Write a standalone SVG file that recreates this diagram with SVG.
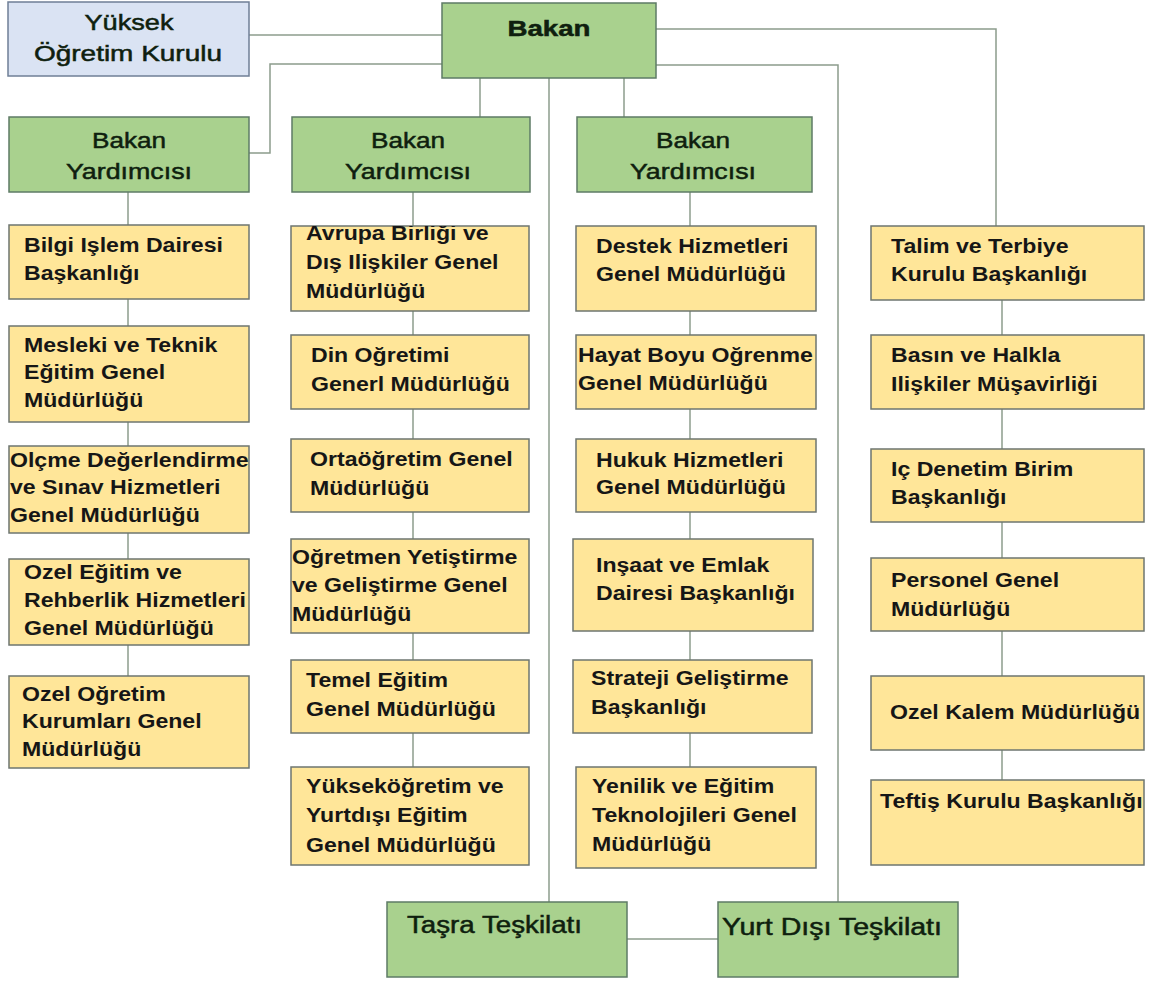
<svg xmlns="http://www.w3.org/2000/svg" width="1150" height="982" viewBox="0 0 1150 982">
<style>
.yb{fill:#ffe699;stroke:#6e7670;stroke-width:1.5}
.gb{fill:#a9d18e;stroke:#5e7b66;stroke-width:1.5}
.bb{fill:#dae3f3;stroke:#6f7f96;stroke-width:1.5}
.c{fill:none;stroke:#8c9c8c;stroke-width:1.5}
.yt{font-family:"Liberation Sans",Arial,sans-serif;font-weight:bold;font-size:21px;fill:#161616}
.gt{font-family:"Liberation Sans",Arial,sans-serif;font-size:22px;fill:#0f1f0f;stroke:#0f1f0f;stroke-width:0.5;text-anchor:middle}
.gl{font-family:"Liberation Sans",Arial,sans-serif;font-size:23px;fill:#0f1f0f;stroke:#0f1f0f;stroke-width:0.5}
</style>
<defs>
<clipPath id="clipAv"><rect x="291" y="226" width="238" height="85"/></clipPath>
<clipPath id="clipOk"><rect x="871" y="676" width="273" height="74"/></clipPath>
<clipPath id="clipTf"><rect x="871" y="780" width="273" height="85"/></clipPath>
</defs>
<rect width="1150" height="982" fill="#ffffff"/>
<g id="connectors">
<path class="c" d="M249 35H442"/>
<path class="c" d="M442 64H270V153H249"/>
<path class="c" d="M480 78V117"/>
<path class="c" d="M549 78V902"/>
<path class="c" d="M624 78V117"/>
<path class="c" d="M656 29H996V226"/>
<path class="c" d="M656 65H838V902"/>
<path class="c" d="M627 939H718"/>
<path class="c" d="M128 192V676"/>
<path class="c" d="M413 192V767"/>
<path class="c" d="M690 192V767"/>
<path class="c" d="M1002 300V780"/>
</g>
<g id="yok">
<rect class="bb" x="8" y="2" width="241" height="74"/>
<text class="gt"><tspan x="129" y="30" textLength="89" lengthAdjust="spacingAndGlyphs">Yüksek</tspan><tspan x="128" y="61" textLength="188" lengthAdjust="spacingAndGlyphs">Öğretim Kurulu</tspan></text>
</g>
<g id="bakan">
<rect class="gb" x="442" y="3" width="214" height="75"/>
<text class="gt" font-weight="bold" stroke-width="0" x="549" y="36" textLength="83" lengthAdjust="spacingAndGlyphs">Bakan</text>
</g>
<g id="by1">
<rect class="gb" x="9" y="117" width="240" height="75"/>
<text class="gt"><tspan x="129" y="148" textLength="74" lengthAdjust="spacingAndGlyphs">Bakan</tspan><tspan x="129" y="179" textLength="126" lengthAdjust="spacingAndGlyphs">Yardımcısı</tspan></text>
</g>
<g id="by2">
<rect class="gb" x="292" y="117" width="238" height="75"/>
<text class="gt"><tspan x="408" y="148" textLength="74" lengthAdjust="spacingAndGlyphs">Bakan</tspan><tspan x="408" y="179" textLength="126" lengthAdjust="spacingAndGlyphs">Yardımcısı</tspan></text>
</g>
<g id="by3">
<rect class="gb" x="577" y="117" width="235" height="75"/>
<text class="gt"><tspan x="693" y="148" textLength="74" lengthAdjust="spacingAndGlyphs">Bakan</tspan><tspan x="693" y="179" textLength="126" lengthAdjust="spacingAndGlyphs">Yardımcısı</tspan></text>
</g>
<g id="tasra">
<rect class="gb" x="387" y="902" width="240" height="75"/>
<text class="gl" x="407" y="933" textLength="175" lengthAdjust="spacingAndGlyphs">Taşra Teşkilatı</text>
</g>
<g id="yurtdisi">
<rect class="gb" x="718" y="902" width="240" height="75"/>
<text class="gl" x="722" y="935" textLength="220" lengthAdjust="spacingAndGlyphs">Yurt Dışı Teşkilatı</text>
</g>
<!-- column 1 -->
<g id="bilgi">
<rect class="yb" x="9" y="225" width="240" height="74"/>
<text class="yt" transform="translate(24 252) scale(1.1 1)"><tspan x="0">Bilgi Işlem Dairesi</tspan><tspan x="0" dy="28">Başkanlığı</tspan></text>
</g>
<g id="mesleki">
<rect class="yb" x="9" y="326" width="240" height="96"/>
<text class="yt" transform="translate(24 352) scale(1.1 1)"><tspan x="0">Mesleki ve Teknik</tspan><tspan x="0" dy="27.5">Eğitim Genel</tspan><tspan x="0" dy="27.5">Müdürlüğü</tspan></text>
</g>
<g id="olcme">
<rect class="yb" x="9" y="446" width="240" height="87"/>
<text class="yt" transform="translate(10 467) scale(1.1 1)"><tspan x="0">Olçme Değerlendirme</tspan><tspan x="0" dy="27.5">ve Sınav Hizmetleri</tspan><tspan x="0" dy="27.5">Genel Müdürlüğü</tspan></text>
</g>
<g id="ozelegitim">
<rect class="yb" x="9" y="559" width="240" height="86"/>
<text class="yt" transform="translate(24 579) scale(1.1 1)"><tspan x="0">Ozel Eğitim ve</tspan><tspan x="0" dy="28">Rehberlik Hizmetleri</tspan><tspan x="0" dy="28">Genel Müdürlüğü</tspan></text>
</g>
<g id="ozelogretim">
<rect class="yb" x="9" y="676" width="240" height="92"/>
<text class="yt" transform="translate(22 701) scale(1.1 1)"><tspan x="0">Ozel Oğretim</tspan><tspan x="0" dy="27.5">Kurumları Genel</tspan><tspan x="0" dy="27.5">Müdürlüğü</tspan></text>
</g>
<!-- column 2 -->
<g id="avrupa">
<rect class="yb" x="291" y="226" width="238" height="85"/>
<g clip-path="url(#clipAv)">
<text class="yt" transform="translate(306 240) scale(1.1 1)"><tspan x="0">Avrupa Birliği ve</tspan><tspan x="0" dy="29">Dış Ilişkiler Genel</tspan><tspan x="0" dy="29">Müdürlüğü</tspan></text>
</g>
</g>
<g id="din">
<rect class="yb" x="291" y="335" width="238" height="74"/>
<text class="yt" transform="translate(311 362) scale(1.1 1)"><tspan x="0">Din Oğretimi</tspan><tspan x="0" dy="29">Generl Müdürlüğü</tspan></text>
</g>
<g id="ortaogretim">
<rect class="yb" x="291" y="439" width="238" height="73"/>
<text class="yt" transform="translate(310 466) scale(1.1 1)"><tspan x="0">Ortaöğretim Genel</tspan><tspan x="0" dy="29">Müdürlüğü</tspan></text>
</g>
<g id="ogretmen">
<rect class="yb" x="291" y="539" width="238" height="94"/>
<text class="yt" transform="translate(292 564) scale(1.1 1)"><tspan x="0">Oğretmen Yetiştirme</tspan><tspan x="0" dy="28.5">ve Geliştirme Genel</tspan><tspan x="0" dy="28.5">Müdürlüğü</tspan></text>
</g>
<g id="temel">
<rect class="yb" x="291" y="660" width="238" height="73"/>
<text class="yt" transform="translate(306 687) scale(1.1 1)"><tspan x="0">Temel Eğitim</tspan><tspan x="0" dy="29">Genel Müdürlüğü</tspan></text>
</g>
<g id="yuksekogretim">
<rect class="yb" x="291" y="767" width="238" height="98"/>
<text class="yt" transform="translate(306 793) scale(1.1 1)"><tspan x="0">Yükseköğretim ve</tspan><tspan x="0" dy="29.5">Yurtdışı Eğitim</tspan><tspan x="0" dy="29.5">Genel Müdürlüğü</tspan></text>
</g>
<!-- column 3 -->
<g id="destek">
<rect class="yb" x="576" y="226" width="240" height="85"/>
<text class="yt" transform="translate(596 253) scale(1.1 1)"><tspan x="0">Destek Hizmetleri</tspan><tspan x="0" dy="28.5">Genel Müdürlüğü</tspan></text>
</g>
<g id="hayat">
<rect class="yb" x="576" y="335" width="240" height="74"/>
<text class="yt" transform="translate(578 362) scale(1.1 1)"><tspan x="0">Hayat Boyu Oğrenme</tspan><tspan x="0" dy="28.5">Genel Müdürlüğü</tspan></text>
</g>
<g id="hukuk">
<rect class="yb" x="576" y="439" width="240" height="73"/>
<text class="yt" transform="translate(596 467) scale(1.1 1)"><tspan x="0">Hukuk Hizmetleri</tspan><tspan x="0" dy="27.5">Genel Müdürlüğü</tspan></text>
</g>
<g id="insaat">
<rect class="yb" x="573" y="539" width="240" height="92"/>
<text class="yt" transform="translate(596 572) scale(1.1 1)"><tspan x="0">Inşaat ve Emlak</tspan><tspan x="0" dy="28.5">Dairesi Başkanlığı</tspan></text>
</g>
<g id="strateji">
<rect class="yb" x="573" y="660" width="239" height="73"/>
<text class="yt" transform="translate(591 685) scale(1.1 1)"><tspan x="0">Strateji Geliştirme</tspan><tspan x="0" dy="29">Başkanlığı</tspan></text>
</g>
<g id="yenilik">
<rect class="yb" x="576" y="767" width="240" height="101"/>
<text class="yt" transform="translate(592 793) scale(1.1 1)"><tspan x="0">Yenilik ve Eğitim</tspan><tspan x="0" dy="29">Teknolojileri Genel</tspan><tspan x="0" dy="29">Müdürlüğü</tspan></text>
</g>
<!-- column 4 -->
<g id="talim">
<rect class="yb" x="871" y="226" width="273" height="74"/>
<text class="yt" transform="translate(891 253) scale(1.1 1)"><tspan x="0">Talim ve Terbiye</tspan><tspan x="0" dy="28">Kurulu Başkanlığı</tspan></text>
</g>
<g id="basin">
<rect class="yb" x="871" y="335" width="273" height="74"/>
<text class="yt" transform="translate(891 362) scale(1.1 1)"><tspan x="0">Basın ve Halkla</tspan><tspan x="0" dy="29">Ilişkiler Müşavirliği</tspan></text>
</g>
<g id="icdenetim">
<rect class="yb" x="871" y="449" width="273" height="73"/>
<text class="yt" transform="translate(891 476) scale(1.1 1)"><tspan x="0">Iç Denetim Birim</tspan><tspan x="0" dy="28">Başkanlığı</tspan></text>
</g>
<g id="personel">
<rect class="yb" x="871" y="558" width="273" height="73"/>
<text class="yt" transform="translate(891 587) scale(1.1 1)"><tspan x="0">Personel Genel</tspan><tspan x="0" dy="29">Müdürlüğü</tspan></text>
</g>
<g id="ozelkalem">
<rect class="yb" x="871" y="676" width="273" height="74"/>
<g clip-path="url(#clipOk)">
<text class="yt" transform="translate(890 719) scale(1.1 1)">Ozel Kalem Müdürlüğü</text>
</g>
</g>
<g id="teftis">
<rect class="yb" x="871" y="780" width="273" height="85"/>
<g clip-path="url(#clipTf)">
<text class="yt" transform="translate(880 808) scale(1.1 1)">Teftiş Kurulu Başkanlığı</text>
</g>
</g>
</svg>
